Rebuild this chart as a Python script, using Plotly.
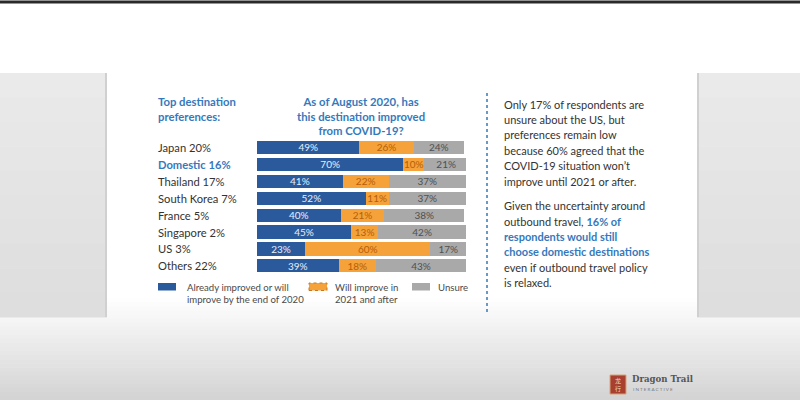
import plotly.graph_objects as go

# ---------------- data ----------------
categories = ["Japan 20%", "Domestic 16%", "Thailand 17%", "South Korea 7%",
              "France 5%", "Singapore 2%", "US 3%", "Others 22%"]
improved = [49, 70, 41, 52, 40, 45, 23, 39]
later = [26, 10, 22, 11, 21, 13, 60, 18]
unsure = [24, 21, 37, 37, 38, 42, 17, 43]
series_names = ["Already improved or will<br>improve by the end of 2020",
                "Will improve in<br>2021 and after",
                "Unsure"]
highlight_category = "Domestic 16%"

W, H = 800, 400
FONT = "Lato"
BLUE_BAR = "#2b5a9c"
ORANGE = "#f5a23a"
GREY = "#a9a9a9"
HEAD_BLUE = "#3579bd"
TXT = "#333333"


def px(x):
    return x / W


def py(y):
    return 1 - y / H


def blue(s):
    return f"<b><span style='color:{HEAD_BLUE}'>{s}</span></b>"


para1 = ["Only 17% of respondents are", "unsure about the US, but",
         "preferences remain low", "because 60% agreed that the",
         "COVID-19 situation won\u2019t", "improve until 2021 or after."]
para2 = ["Given the uncertainty around", "outbound travel, " + blue("16% of"),
         blue("respondents would still"), blue("choose domestic destinations"),
         "even if outbound travel policy", "is relaxed."]

fig = go.Figure()

series = [(improved, series_names[0], BLUE_BAR, "#e6eefa"),
          (later, series_names[1], ORANGE, "#b45f08"),
          (unsure, series_names[2], GREY, "#505050")]
for vals, name, col, tcol in series:
    fig.add_trace(go.Bar(
        y=categories, x=vals, name=name, orientation="h",
        marker=dict(color=col, line=dict(width=0)),
        text=[f"{v}%" for v in vals], textposition="inside",
        insidetextanchor="middle", constraintext="none",
        textfont=dict(family=FONT, size=10, color=tcol),
        width=0.78, hoverinfo="skip", showlegend=False))

# ---------------- background shapes ----------------
shapes = []
shapes.append(dict(type="rect", xref="paper", yref="paper", x0=0, x1=1,
                   y0=py(3.5), y1=py(0.5), fillcolor="#2a2a2a", line_width=0,
                   layer="below"))
bands = 25
for i in range(bands):
    y0 = 298 + i * (102 / bands)
    y1 = y0 + 102 / bands + 0.5
    t = i / (bands - 1)
    g = int(254 - (254 - 212) * t)
    shapes.append(dict(type="rect", xref="paper", yref="paper", x0=0, x1=1,
                       y0=py(y1), y1=py(y0), fillcolor=f"rgb({g},{g},{g})",
                       line_width=0, layer="below"))
pb = 10
for i in range(pb):
    y0 = 73 + i * (244 / pb)
    y1 = y0 + 244 / pb + 0.5
    g = int(234 - (234 - 222) * (i / (pb - 1)))
    for xa, xb in [(0, 107), (697, 800)]:
        shapes.append(dict(type="rect", xref="paper", yref="paper",
                           x0=px(xa), x1=px(xb), y0=py(y1), y1=py(y0),
                           fillcolor=f"rgb({g},{g},{g})", line_width=0,
                           layer="below"))
shapes.append(dict(type="line", xref="paper", yref="paper", x0=px(106), x1=px(106),
                   y0=py(317), y1=py(73), line=dict(color="#d0d0d0", width=2),
                   layer="below"))
shapes.append(dict(type="line", xref="paper", yref="paper", x0=px(698), x1=px(698),
                   y0=py(317), y1=py(73), line=dict(color="#d0d0d0", width=2),
                   layer="below"))
shapes.append(dict(type="line", xref="paper", yref="paper", x0=px(487), x1=px(487),
                   y0=py(312), y1=py(91),
                   line=dict(color=HEAD_BLUE, width=1.5, dash="3px,3px")))
shapes.append(dict(type="rect", xref="paper", yref="paper", x0=px(610), x1=px(626),
                   y0=py(394), y1=py(375), fillcolor="#a8402f",
                   line=dict(color="#d9a27a", width=1)))

# ---------------- custom legend ----------------
ann = []
legend_pos = [(158, 185), (309, 333), (412, 436)]
legend_line = [dict(width=0), dict(color="#c8781a", width=1, dash="dot"), dict(width=0)]
for (sx, tx), (_, name, col, _t), ln in zip(legend_pos, series, legend_line):
    shapes.append(dict(type="rect", xref="paper", yref="paper",
                       x0=px(sx), x1=px(sx + 18), y0=py(290.5), y1=py(283),
                       fillcolor=col, line=ln))
    ann.append(dict(xref="paper", yref="paper", x=px(tx), y=py(280), xanchor="left",
                    yanchor="top", showarrow=False, align="left", text=name,
                    font=dict(family=FONT, size=9.6, color="#4a4a4a")))

# ---------------- annotations ----------------
for c in categories:
    hl = c == highlight_category
    ann.append(dict(xref="paper", yref="y", x=px(156), y=c, xanchor="left",
                    yanchor="middle", showarrow=False,
                    text=f"<b>{c}</b>" if hl else c,
                    font=dict(family=FONT, size=11.2,
                              color=HEAD_BLUE if hl else TXT)))

ann.append(dict(xref="paper", yref="paper", x=px(156), y=py(93), xanchor="left",
                yanchor="top", showarrow=False, align="left",
                text="<b>Top destination<br>preferences:</b>",
                font=dict(family=FONT, size=11.3, color=HEAD_BLUE)))
ann.append(dict(xref="paper", yref="paper", x=px(361), y=py(93), xanchor="center",
                yanchor="top", showarrow=False, align="center",
                text="<b>As of August 2020, has<br>this destination improved<br>from COVID-19?</b>",
                font=dict(family=FONT, size=11.3, color=HEAD_BLUE)))

for start, lines in [(104, para1), (205.7, para2)]:
    for i, line in enumerate(lines):
        ann.append(dict(xref="paper", yref="paper", x=px(502), y=py(start + 15.4 * i),
                        xanchor="left", yanchor="middle", showarrow=False,
                        align="left", text=line,
                        font=dict(family=FONT, size=11, color=TXT)))

ann.append(dict(xref="paper", yref="paper", x=px(618), y=py(384.5), xanchor="center",
                yanchor="middle", showarrow=False, text="龙<br>行",
                font=dict(family="Noto Sans CJK SC", size=6, color="#f3d9c0")))
ann.append(dict(xref="paper", yref="paper", x=px(630), y=py(379), xanchor="left",
                yanchor="middle", showarrow=False, text="<b>Dragon Trail</b>",
                font=dict(family="DejaVu Serif", size=8.6, color="#555555")))
ann.append(dict(xref="paper", yref="paper", x=px(631), y=py(389), xanchor="left",
                yanchor="middle", showarrow=False, text="I N T E R A C T I V E",
                font=dict(family=FONT, size=4.6, color="#777777")))

fig.update_layout(
    width=W, height=H,
    margin=dict(l=0, r=0, t=0, b=0),
    paper_bgcolor="white", plot_bgcolor="rgba(0,0,0,0)",
    barmode="stack", bargap=0.22,
    showlegend=False,
    xaxis=dict(domain=[px(257), px(466)], range=[0, 100], visible=False,
               fixedrange=True),
    yaxis=dict(domain=[py(274.3), py(139)], type="category",
               categoryorder="array", categoryarray=categories,
               range=[len(categories) - 0.5, -0.5], visible=False,
               fixedrange=True),
    shapes=shapes, annotations=ann,
    font=dict(family=FONT),
)

fig.write_html("out.html", config={"displayModeBar": False},
               post_script="document.body.style.margin='0';document.body.style.padding='0';")
